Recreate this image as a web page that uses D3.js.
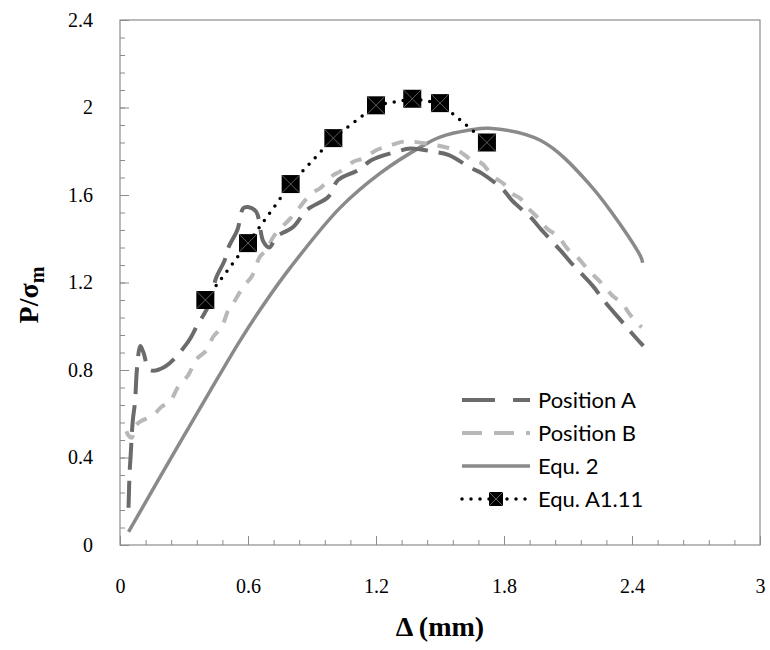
<!DOCTYPE html>
<html>
<head>
	<meta charset="utf-8">
	<title>P / sigma vs delta</title>
	<script src="https://cdn.jsdelivr.net/npm/d3@7"></script>
	<style>
		body {
			margin: 0;
			background: #fff;
		}
		.tick text {
			font-family: "Liberation Serif", "DejaVu Serif", serif;
			font-size: 20px;
			fill: #000;
		}
		.tick line {
			stroke: #8c8c8c;
		}
		.title {
			font-family: "Liberation Serif", "DejaVu Serif", serif;
			font-weight: bold;
			font-size: 28px;
			fill: #000;
		}
		.legend text {
			font-family: "Lato", "Open Sans", sans-serif;
			font-size: 22px;
			fill: #000;
		}
	</style>
</head>
<body>
	<svg id="chart" width="770" height="650"></svg>
<script>

//
// Data
//

var xTicks = [0, 0.6, 1.2, 1.8, 2.4, 3];
var yTicks = [0, 0.4, 0.8, 1.2, 1.6, 2, 2.4];

var posA = [
	[0.04, 0.17], [0.045, 0.33], [0.05, 0.41], [0.06, 0.57], [0.07, 0.65], [0.08, 0.81],
	[0.095, 0.91], [0.11, 0.88], [0.14, 0.80], [0.21, 0.815], [0.32, 0.93], [0.36, 1.0],
	[0.42, 1.105], [0.45, 1.22], [0.49, 1.30], [0.51, 1.364], [0.55, 1.44], [0.578, 1.54],
	[0.6, 1.545], [0.638, 1.524], [0.672, 1.387], [0.70, 1.36], [0.734, 1.409], [0.813, 1.455],
	[0.875, 1.531], [0.977, 1.592], [1.023, 1.669], [1.117, 1.714], [1.18, 1.76], [1.297, 1.798],
	[1.36, 1.813], [1.469, 1.798], [1.539, 1.783], [1.648, 1.722], [1.696, 1.699], [1.797, 1.623],
	[1.836, 1.577], [1.93, 1.493], [1.969, 1.448], [2.07, 1.341], [2.11, 1.295], [2.219, 1.181],
	[2.266, 1.12], [2.36, 1.013], [2.414, 0.952], [2.453, 0.91]
];

var posB = [
	[0.03, 0.52], [0.04, 0.50], [0.055, 0.49], [0.07, 0.54], [0.094, 0.564], [0.156, 0.594],
	[0.195, 0.632], [0.234, 0.655], [0.273, 0.724], [0.32, 0.777], [0.356, 0.846], [0.406, 0.891],
	[0.437, 0.952], [0.477, 0.998], [0.508, 1.074], [0.531, 1.105], [0.578, 1.181], [0.617, 1.227],
	[0.656, 1.318], [0.688, 1.349], [0.719, 1.409], [0.805, 1.50], [0.899, 1.608], [0.938, 1.631],
	[1.0, 1.691], [1.031, 1.707], [1.094, 1.752], [1.141, 1.768], [1.203, 1.806], [1.25, 1.821],
	[1.328, 1.844], [1.367, 1.844], [1.47, 1.83], [1.547, 1.813], [1.594, 1.798], [1.648, 1.76],
	[1.695, 1.745], [1.75, 1.684], [1.797, 1.653], [1.836, 1.608], [1.875, 1.585], [1.914, 1.539],
	[1.961, 1.494], [2.0, 1.448], [2.055, 1.409], [2.102, 1.349], [2.141, 1.318], [2.203, 1.249],
	[2.25, 1.204], [2.305, 1.143], [2.352, 1.105], [2.398, 1.044], [2.445, 0.995]
];

var equ2 = [
	[0.04, 0.06], [0.27, 0.45], [0.42, 0.70], [0.56, 0.93], [0.66, 1.08], [0.80, 1.27],
	[1.03, 1.54], [1.22, 1.70], [1.41, 1.82], [1.50, 1.865], [1.64, 1.897], [1.73, 1.905],
	[1.97, 1.85], [2.20, 1.65], [2.44, 1.32], [2.45, 1.29]
];

var equA111 = [
	[0.4, 1.12], [0.6, 1.38], [0.8, 1.65], [1.0, 1.86], [1.2, 2.01],
	[1.37, 2.04], [1.5, 2.02], [1.72, 1.84]
];

var legendNames = ["Position A", "Position B", "Equ. 2", "Equ. A1.11"];

//
// Setup
//

var svg = d3.select("#chart");

var x = d3.scaleLinear()
	.domain([0, 3])
	.range([120, 760]);
var y = d3.scaleLinear()
	.domain([0, 2.4])
	.range([545, 20]);

// Minor ticks (inward)
svg.append("g")
	.attr("transform", "translate(0,545)")
	.call(d3.axisBottom(x).tickValues(d3.range(0, 3.001, 0.12)).tickSizeInner(-5).tickSizeOuter(0).tickFormat(""))
	.call(function(g) { g.select(".domain").remove(); });
svg.append("g")
	.attr("transform", "translate(120,0)")
	.call(d3.axisLeft(y).tickValues(d3.range(0, 2.401, 0.08)).tickSizeInner(-5).tickSizeOuter(0).tickFormat(""))
	.call(function(g) { g.select(".domain").remove(); });

// Major ticks with labels
svg.append("g")
	.attr("transform", "translate(0,545)")
	.call(d3.axisBottom(x).tickValues(xTicks).tickSizeInner(-9).tickSizeOuter(0).tickPadding(34).tickFormat(d3.format("")))
	.call(function(g) { g.select(".domain").remove(); });
svg.append("g")
	.attr("transform", "translate(120,0)")
	.call(d3.axisLeft(y).tickValues(yTicks).tickSizeInner(-9).tickSizeOuter(0).tickPadding(27).tickFormat(d3.format("")))
	.call(function(g) { g.select(".domain").remove(); });

// Plot border
svg.append("rect")
	.attr("x", x(0))
	.attr("y", y(2.4))
	.attr("width", x(3) - x(0))
	.attr("height", y(0) - y(2.4))
	.attr("fill", "none")
	.attr("stroke", "#8c8c8c")
	.attr("stroke-width", 1.2);

//
// Lines
//

var smooth = d3.line()
	.x(function(d) { return x(d[0]); })
	.y(function(d) { return y(d[1]); })
	.curve(d3.curveCatmullRom.alpha(0.5));
var straight = d3.line()
	.x(function(d) { return x(d[0]); })
	.y(function(d) { return y(d[1]); });

var styles = [
	{ color: "#6b6b6b", width: 4, dash: "27,11" },
	{ color: "#b8b8b8", width: 4, dash: "12,11" },
	{ color: "#8a8a8a", width: 3.5, dash: null },
	{ color: "#000", width: 3.5, dash: "0,9" }
];

svg.append("path")
	.datum(equ2)
	.attr("d", smooth)
	.attr("fill", "none")
	.attr("stroke", styles[2].color)
	.attr("stroke-width", styles[2].width);

svg.append("path")
	.datum(posB)
	.attr("d", smooth)
	.attr("fill", "none")
	.attr("stroke", styles[1].color)
	.attr("stroke-width", styles[1].width)
	.attr("stroke-dasharray", styles[1].dash);

svg.append("path")
	.datum(posA)
	.attr("d", smooth)
	.attr("fill", "none")
	.attr("stroke", styles[0].color)
	.attr("stroke-width", styles[0].width)
	.attr("stroke-dasharray", styles[0].dash);

svg.append("path")
	.datum(equA111)
	.attr("d", straight)
	.attr("fill", "none")
	.attr("stroke", styles[3].color)
	.attr("stroke-width", styles[3].width)
	.attr("stroke-linecap", "round")
	.attr("stroke-dasharray", styles[3].dash);

function marker(g, cx, cy, s) {
	var m = g.append("g").attr("transform", "translate(" + cx + "," + cy + ")");
	m.append("rect")
		.attr("x", -s / 2).attr("y", -s / 2)
		.attr("width", s).attr("height", s)
		.attr("fill", "#000");
	m.append("path")
		.attr("d", "M" + (-s / 2) + "," + (-s / 2) + "L" + (s / 2) + "," + (s / 2) +
			"M" + (s / 2) + "," + (-s / 2) + "L" + (-s / 2) + "," + (s / 2))
		.attr("stroke", "#777")
		.attr("stroke-width", 0.8);
}

var markerG = svg.append("g");
equA111.forEach(function(d) {
	marker(markerG, x(d[0]), y(d[1]), 18);
});

//
// Legend
//

var legend = svg.append("g").attr("class", "legend");
legendNames.forEach(function(name, i) {
	var ly = 400 + i * 33;
	var st = styles[i];
	legend.append("line")
		.attr("x1", 462).attr("x2", 530)
		.attr("y1", ly).attr("y2", ly)
		.attr("stroke", st.color)
		.attr("stroke-width", st.width)
		.attr("stroke-linecap", i === 3 ? "round" : "butt")
		.attr("stroke-dasharray", i === 0 ? "33,18" : i === 1 ? "20,12" : st.dash);
	if (i === 3) marker(legend, 496, ly, 14);
	legend.append("text")
		.attr("x", 538)
		.attr("y", ly)
		.attr("dy", "0.35em")
		.text(name);
});

//
// Axis titles
//

svg.append("text")
	.attr("class", "title")
	.attr("x", 440)
	.attr("y", 636)
	.attr("text-anchor", "middle")
	.text("Δ (mm)");

var yt = svg.append("text")
	.attr("class", "title")
	.attr("transform", "translate(38,295) rotate(-90)")
	.attr("text-anchor", "middle");
yt.append("tspan").text("P/σ");
yt.append("tspan").attr("dy", 6).style("font-size", "20px").text("m");

</script>
</body>
</html>
